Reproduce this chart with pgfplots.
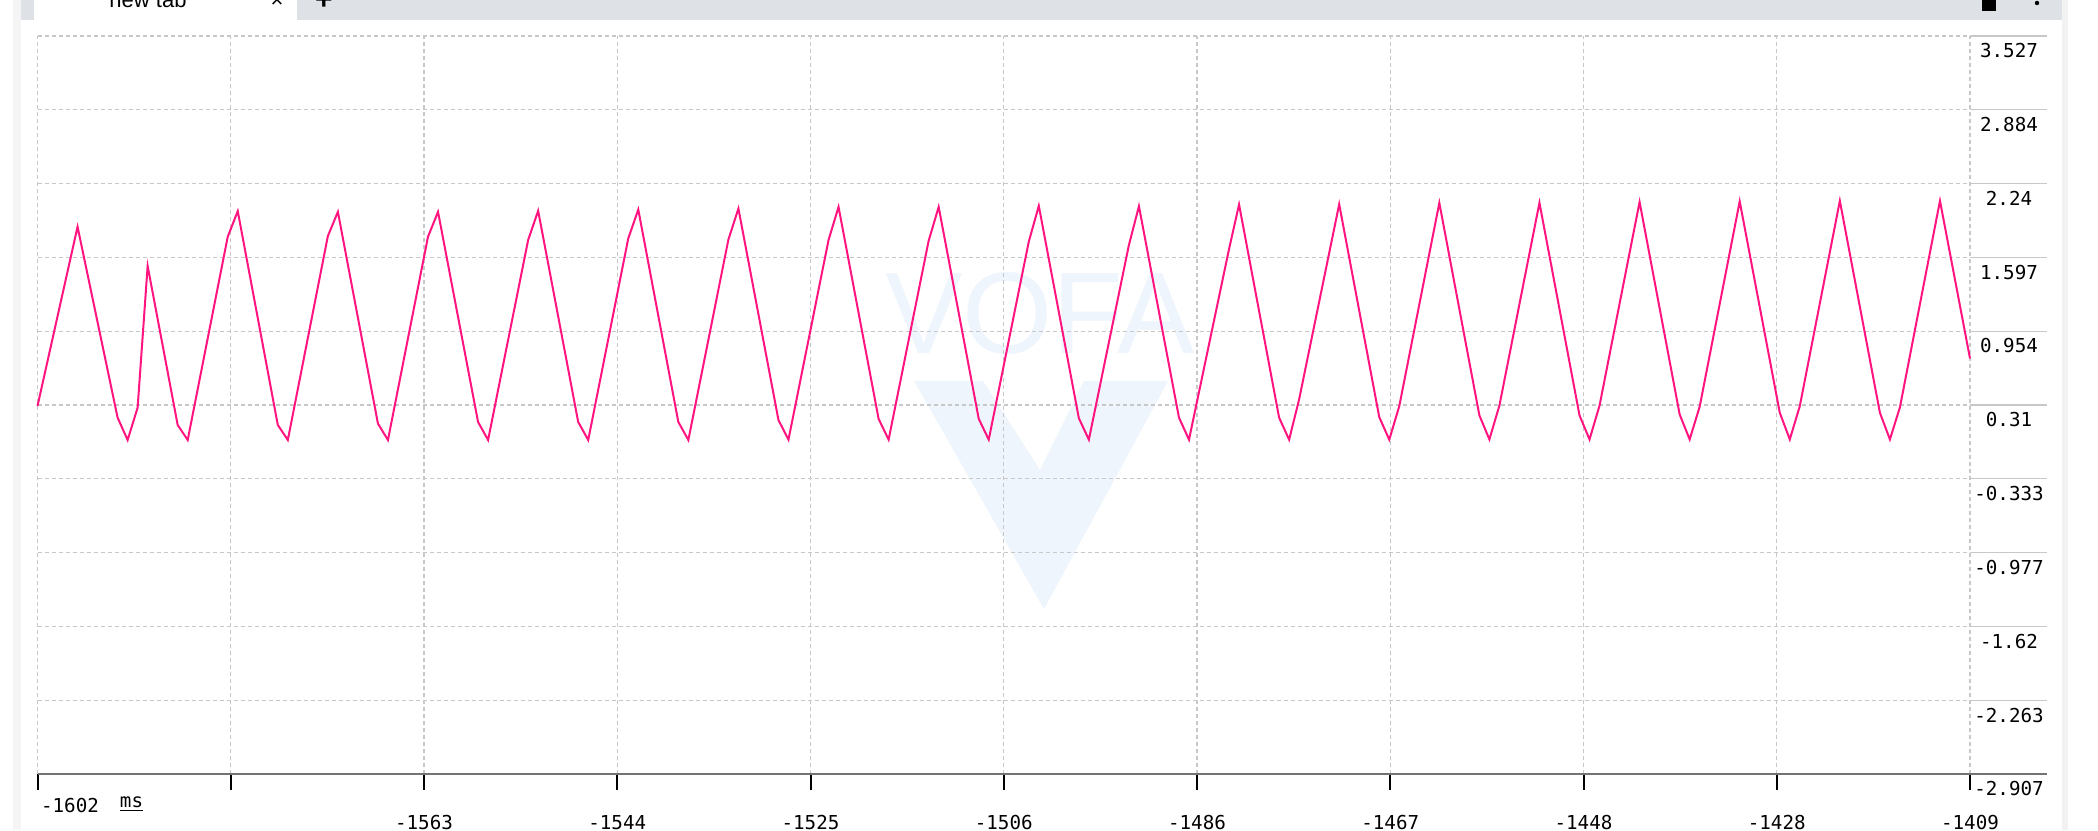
\documentclass[border=0pt]{standalone}
\usepackage{fontspec}
\setmainfont{Liberation Sans}
\setmonofont{DejaVu Sans Mono}
\usepackage{pgfplots}
\usepackage{pgfplotstable}
\pgfplotsset{compat=1.18}

\definecolor{vofapink}{RGB}{255,20,128}
\definecolor{gridgray}{RGB}{200,200,200}
\definecolor{tabgray}{RGB}{222,225,230}
\definecolor{wmblue}{RGB}{238,245,253}
\definecolor{axisgray}{RGB}{115,115,115}

% time (ms), value -- vertices
\pgfplotstableread{
t v
-1602 0.301
-1598 1.864
-1594 0.200
-1593 0.005
-1592 0.287
-1591 1.522
-1588 0.136
-1587 0.005
-1583 1.777
-1582 2.000
-1578 0.136
-1577 0.005
-1573 1.783
-1572 1.994
-1568 0.148
-1567 0.005
-1563 1.777
-1562 1.994
-1558 0.162
-1557 0.005
-1553 1.748
-1552 2.003
-1548 0.162
-1547 0.005
-1543 1.762
-1542 2.014
-1538 0.162
-1537 0.005
-1533 1.752
-1532 2.023
-1528 0.179
-1527 0.008
-1523 1.748
-1522 2.037
-1518 0.190
-1517 0.008
-1513 1.742
-1512 2.037
-1508 0.190
-1507 0.008
-1503 1.734
-1502 2.046
-1498 0.195
-1497 0.008
-1493 1.705
-1492 2.043
-1488 0.200
-1487 0.008
-1483 1.670
-1482 2.058
-1478 0.200
-1477 0.008
-1476 0.360
-1472 2.060
-1468 0.205
-1467 0.008
-1466 0.300
-1462 2.072
-1458 0.220
-1457 0.010
-1456 0.305
-1452 2.073
-1448 0.220
-1447 0.010
-1446 0.305
-1442 2.080
-1438 0.229
-1437 0.010
-1436 0.295
-1432 2.085
-1428 0.243
-1427 0.010
-1426 0.300
-1422 2.090
-1418 0.243
-1417 0.010
-1416 0.290
-1412 2.090
-1409 0.715
}\signal

\begin{document}
\begin{tikzpicture}
\fill[white] (0,0) rectangle (1049pt,-415pt);
\path[use as bounding box] (0,0) rectangle (1049pt,-415pt);

% window chrome
\fill[black!4] (6.5pt,0) rectangle (10.5pt,-415pt);
\fill[tabgray] (10.5pt,0) rectangle (1032pt,-10pt);
\fill[white] (17pt,0) rectangle (148.5pt,-10.5pt);
\fill[black!5] (1031pt,0) rectangle (1034pt,-415pt);
\node[anchor=base, font=\fontsize{11}{11}\selectfont] at (74pt,-3.5pt) {new tab};
\node[font=\fontsize{11}{11}\selectfont] at (138.5pt,-0.5pt) {×};
\node[font=\bfseries\fontsize{15}{15}\selectfont] at (162pt,-0.5pt) {+};
\fill[black] (991pt,0) rectangle (998pt,-5.5pt);
\fill[black] (1018.5pt,-1.5pt) circle (1.1pt);

% watermark
\fill[wmblue] (457pt,-190.5pt) -- (491.5pt,-190.5pt) -- (520pt,-235pt) -- (542pt,-190.5pt)
  -- (584pt,-190.5pt) -- (522pt,-304.5pt) -- cycle;
\node[text=wmblue, font=\fontsize{58}{58}\selectfont] at (520pt,-157pt) {VOFA};

\begin{axis}[
  at={(18.75pt,-387pt)}, anchor=south west,
  scale only axis, width=966.25pt, height=369pt,
  xmin=-1602, xmax=-1409, ymin=-2.907, ymax=3.527,
  clip=false,
  scaled ticks=false,
  axis line style={draw=none},
  xtick={-1602,-1582.7,-1563.4,-1544.1,-1524.8,-1505.5,-1486.2,-1466.9,-1447.6,-1428.3,-1409},
  xticklabels={,,-1563,-1544,-1525,-1506,-1486,-1467,-1448,-1428,-1409},
  ytick={3.527,2.8836,2.2402,1.5968,0.9534,0.31,-0.3334,-0.9768,-1.6202,-2.2636,-2.907},
  yticklabels={3.527,2.884,2.24,1.597,0.954,0.31,-0.333,-0.977,-1.62,-2.263,-2.907},
  grid=major,
  major grid style={gridgray, line width=0.6pt, dash pattern=on 2pt off 1.5pt},
  xtick pos=bottom,
  tick align=outside,
  major tick length=8pt,
  xtick style={black, line width=1pt},
  ytick style={draw=none},
  yticklabel pos=right,
  ticklabel style={font=\ttfamily\fontsize{9.6}{10}\selectfont},
  xticklabel style={anchor=center, yshift=-16.35pt},
  yticklabel style={anchor=center, xshift=11.5pt, yshift=-7.4pt},
]
\addplot[vofapink, line width=1pt] table[x=t, y=v] {\signal};
\end{axis}

% axis base line and grid stubs right of the plot
\draw[axisgray, line width=0.9pt] (18.75pt,-387pt) -- (1023.5pt,-387pt);
\foreach \k in {0,...,9}
  \draw[gridgray, line width=0.6pt] (985pt,{-18pt-\k*36.9pt}) -- (1023.5pt,{-18pt-\k*36.9pt});

\node[font=\ttfamily\fontsize{9.6}{10}\selectfont] at (35pt,-402.5pt) {-1602};
\node[font=\ttfamily\fontsize{9.6}{10}\selectfont] at (65.75pt,-402pt) {\underline{ms}};
\end{tikzpicture}
\end{document}
